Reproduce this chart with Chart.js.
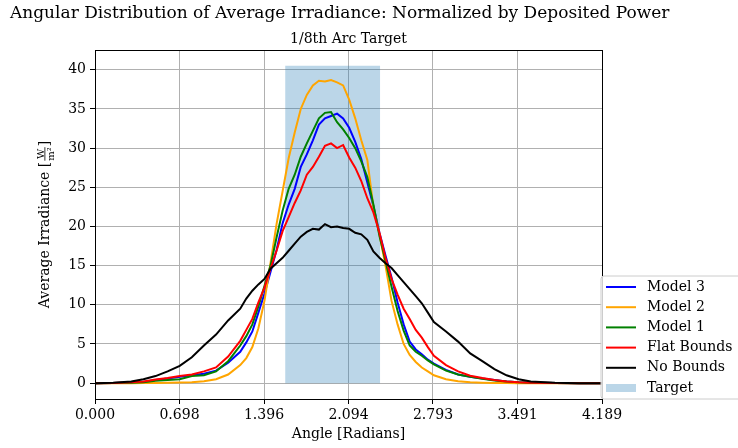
<!DOCTYPE html>
<html>
<head>
<meta charset="utf-8">
<script src="https://cdn.jsdelivr.net/npm/chart.js@4/dist/chart.umd.min.js"></script>
<style>
  html, body { margin: 0; padding: 0; background: #ffffff; }
  #wrap { width: 738px; height: 448px; }
</style>
</head>
<body>
<div id="wrap"><canvas id="c" width="738" height="448"></canvas></div>
<script>
// ---- Data ----
const angles = [0, 0.15, 0.3, 0.4, 0.5, 0.6, 0.7, 0.8, 0.9, 1.0, 1.1, 1.2, 1.25, 1.3, 1.35, 1.4, 1.45, 1.5, 1.55, 1.6, 1.65, 1.7, 1.75, 1.8, 1.85, 1.9, 1.95, 2.0, 2.05, 2.1, 2.15, 2.2, 2.25, 2.3, 2.35, 2.4, 2.45, 2.5, 2.55, 2.6, 2.65, 2.7, 2.75, 2.8, 2.9, 3.0, 3.1, 3.2, 3.3, 3.4, 3.5, 3.6, 3.8, 4.0, 4.189];

const model3 = [0, 0.02, 0.08, 0.15, 0.4, 0.6, 0.8, 1.0, 1.2, 1.6, 2.6, 4.0, 5.2, 6.6, 9.0, 11.4, 14.2, 17.0, 20.4, 22.8, 24.8, 27.6, 29.2, 31.0, 33.0, 33.8, 34.1, 34.4, 33.8, 32.6, 30.8, 28.6, 25.6, 22.6, 19.2, 16.3, 13.5, 10.3, 7.5, 5.3, 4.3, 3.7, 3.0, 2.5, 1.7, 1.1, 0.8, 0.6, 0.4, 0.2, 0.1, 0.05, 0.01, 0, 0];

const model2 = [0, 0, 0, 0.01, 0.02, 0.04, 0.07, 0.12, 0.25, 0.5, 1.1, 2.3, 3.2, 4.6, 7.0, 10.5, 15.3, 20.3, 24.5, 28.7, 32.0, 35.0, 36.8, 38.0, 38.6, 38.5, 38.7, 38.4, 38.0, 36.2, 33.8, 31.0, 28.5, 22.5, 19.0, 15.0, 10.5, 7.5, 5.0, 3.6, 2.7, 2.0, 1.5, 1.0, 0.5, 0.25, 0.12, 0.06, 0.03, 0.01, 0, 0, 0, 0, 0];

const model1 = [0, 0.01, 0.05, 0.1, 0.3, 0.4, 0.5, 0.9, 1.0, 1.5, 2.8, 4.8, 6.0, 7.5, 9.8, 12.4, 15.0, 18.6, 22.0, 24.8, 26.6, 28.9, 30.6, 32.2, 33.8, 34.5, 34.6, 33.3, 32.4, 31.3, 30.0, 28.3, 26.3, 22.8, 18.8, 15.6, 12.3, 9.2, 6.7, 4.8, 4.0, 3.5, 2.9, 2.4, 1.6, 1.1, 0.8, 0.55, 0.35, 0.2, 0.1, 0.05, 0.01, 0, 0];

const flatBounds = [0, 0.02, 0.1, 0.2, 0.45, 0.65, 0.9, 1.1, 1.5, 2.0, 3.4, 5.4, 6.8, 8.2, 10.3, 12.2, 14.6, 16.9, 19.4, 21.2, 23.0, 24.6, 26.6, 27.6, 28.9, 30.3, 30.6, 30.0, 30.4, 28.8, 27.5, 25.8, 23.6, 21.8, 19.2, 16.0, 13.3, 11.3, 9.5, 8.2, 6.8, 5.8, 4.6, 3.5, 2.3, 1.5, 0.95, 0.65, 0.4, 0.2, 0.1, 0.05, 0.01, 0, 0];

const noBounds = [0, 0.05, 0.2, 0.5, 0.9, 1.5, 2.2, 3.3, 4.8, 6.2, 8.0, 9.5, 10.8, 11.8, 12.6, 13.3, 14.6, 15.3, 16.0, 16.9, 17.8, 18.7, 19.3, 19.7, 19.6, 20.3, 19.9, 20.0, 19.8, 19.7, 19.2, 19.0, 18.3, 16.8, 16.0, 15.3, 14.7, 13.8, 12.9, 12.0, 11.1, 10.2, 9.0, 7.8, 6.6, 5.3, 3.8, 2.8, 1.8, 1.0, 0.5, 0.2, 0.05, 0, 0];

const targetRange = [1.5708, 2.3562];   // radians
const targetHeight = 40.5;

const xTickValues = [0, 0.6981, 1.3963, 2.0944, 2.7925, 3.4907, 4.1888];
const xTickLabels = ['0.000', '0.698', '1.396', '2.094', '2.793', '3.491', '4.189'];
const yTickValues = [0, 5, 10, 15, 20, 25, 30, 35, 40];
const yTickLabels = ['0', '5', '10', '15', '20', '25', '30', '35', '40'];

const seriesNames = ['Model 3', 'Model 2', 'Model 1', 'Flat Bounds', 'No Bounds'];
const seriesColors = ['blue', 'orange', 'green', 'red', 'black'];
const targetColor = 'rgba(31,119,180,0.3)';

const titleText = 'Angular Distribution of Average Irradiance: Normalized by Deposited Power';
const subtitleText = '1/8th Arc Target';
const xLabel = 'Angle [Radians]';
const yLabelMain = 'Average Irradiance [';

// ---- Build chart ----
const FONT = '"DejaVu Serif", serif';
const allSeries = [model3, model2, model1, flatBounds, noBounds];

const datasets = allSeries.map((vals, i) => ({
  label: seriesNames[i],
  data: angles.map((a, j) => ({ x: a, y: vals[j] })),
  borderColor: seriesColors[i],
  backgroundColor: seriesColors[i],
  borderWidth: 2,
  pointRadius: 0,
  tension: 0,
  fill: false,
  order: 5 - i
}));
datasets.push({
  label: 'Target',
  data: [
    { x: targetRange[0], y: 0 },
    { x: targetRange[0], y: targetHeight },
    { x: targetRange[1], y: targetHeight },
    { x: targetRange[1], y: 0 }
  ],
  borderWidth: 0,
  borderColor: 'rgba(0,0,0,0)',
  backgroundColor: targetColor,
  pointRadius: 0,
  fill: 'origin',
  order: 10
});

const decorPlugin = {
  id: 'decor',
  afterDatasetsDraw(chart) {
    const { ctx, chartArea: a } = chart;
    ctx.save();
    ctx.strokeStyle = '#000';
    ctx.lineWidth = 1;
    ctx.strokeRect(Math.round(a.left) + 0.5, Math.round(a.top) + 0.5,
                   Math.round(a.right - a.left), Math.round(a.bottom - a.top));
    ctx.restore();
  },
  afterDraw(chart) {
    const { ctx, chartArea: a } = chart;
    ctx.save();
    ctx.fillStyle = '#000';
    // main title
    ctx.font = '17px ' + FONT;
    ctx.textAlign = 'left';
    ctx.textBaseline = 'alphabetic';
    ctx.fillText(titleText, 10, 18);
    // subtitle
    ctx.font = '14px ' + FONT;
    ctx.textAlign = 'center';
    ctx.fillText(subtitleText, (a.left + a.right) / 2, 43);
    // x label
    ctx.font = '14px ' + FONT;
    ctx.textAlign = 'center';
    ctx.fillText(xLabel, (a.left + a.right) / 2, 438);
    // y label with fraction
    ctx.translate(45, (a.top + a.bottom) / 2);
    ctx.rotate(-Math.PI / 2);
    ctx.font = '14px ' + FONT;
    const w1 = ctx.measureText(yLabelMain).width;
    ctx.font = '10px ' + FONT;
    const wf = Math.max(ctx.measureText('W').width, ctx.measureText('m²').width) + 2;
    ctx.font = '14px ' + FONT;
    const w3 = ctx.measureText(']').width;
    const total = w1 + wf + w3;
    let x0 = -total / 2;
    ctx.textAlign = 'left';
    ctx.textBaseline = 'middle';
    ctx.fillText(yLabelMain, x0, 0);
    ctx.font = '10px ' + FONT;
    ctx.textAlign = 'center';
    ctx.textBaseline = 'alphabetic';
    ctx.fillText('W', x0 + w1 + wf / 2, -1);
    ctx.textBaseline = 'top';
    ctx.fillText('m²', x0 + w1 + wf / 2, 1);
    ctx.fillRect(x0 + w1 + 1, -0.5, wf - 2, 0.8);
    ctx.font = '14px ' + FONT;
    ctx.textAlign = 'left';
    ctx.textBaseline = 'middle';
    ctx.fillText(']', x0 + w1 + wf, 0);
    ctx.restore();

    // legend
    ctx.save();
    const lx = 601, ly = 276, lw = 150, lh = 123, r = 3;
    ctx.beginPath();
    ctx.moveTo(lx + r, ly);
    ctx.lineTo(lx + lw - r, ly);
    ctx.arcTo(lx + lw, ly, lx + lw, ly + r, r);
    ctx.lineTo(lx + lw, ly + lh - r);
    ctx.arcTo(lx + lw, ly + lh, lx + lw - r, ly + lh, r);
    ctx.lineTo(lx + r, ly + lh);
    ctx.arcTo(lx, ly + lh, lx, ly + lh - r, r);
    ctx.lineTo(lx, ly + r);
    ctx.arcTo(lx, ly, lx + r, ly, r);
    ctx.closePath();
    ctx.fillStyle = 'rgba(255,255,255,0.8)';
    ctx.fill();
    ctx.strokeStyle = '#cccccc';
    ctx.lineWidth = 1;
    ctx.stroke();
    ctx.font = '14px ' + FONT;
    ctx.textAlign = 'left';
    ctx.textBaseline = 'middle';
    const rowY0 = 287, rowDY = 20.2;
    seriesNames.forEach((name, i) => {
      const y = rowY0 + i * rowDY;
      ctx.strokeStyle = seriesColors[i];
      ctx.lineWidth = 2;
      ctx.beginPath();
      ctx.moveTo(606, y);
      ctx.lineTo(636, y);
      ctx.stroke();
      ctx.fillStyle = '#000';
      ctx.fillText(name, 647, y);
    });
    const ty = rowY0 + 5 * rowDY;
    ctx.fillStyle = targetColor;
    ctx.fillRect(606, ty - 4, 30, 8);
    ctx.fillStyle = '#000';
    ctx.fillText('Target', 647, ty);
    ctx.restore();
  }
};

new Chart(document.getElementById('c'), {
  type: 'line',
  data: { datasets },
  options: {
    responsive: false,
    animation: false,
    events: [],
    layout: { padding: { left: 0, top: 50, right: 136, bottom: 0 } },
    plugins: { legend: { display: false }, tooltip: { enabled: false }, title: { display: false } },
    scales: {
      x: {
        type: 'linear',
        min: 0,
        max: 4.18879,
        afterFit: (s) => { s.height = 49; },
        afterBuildTicks: (s) => { s.ticks = xTickValues.map(v => ({ value: v })); },
        ticks: {
          autoSkip: false,
          maxRotation: 0,
          padding: 3,
          color: '#000',
          font: { family: FONT, size: 14 },
          callback: (v, i) => xTickLabels[i]
        },
        grid: { color: '#b0b0b0', lineWidth: 1, tickColor: '#000', tickLength: 5, tickWidth: 1 },
        border: { display: true, color: '#000', width: 1 }
      },
      y: {
        type: 'linear',
        min: -2.025,
        max: 42.525,
        afterFit: (s) => { s.width = 95; },
        afterBuildTicks: (s) => { s.ticks = yTickValues.map(v => ({ value: v })); },
        ticks: {
          autoSkip: false,
          padding: 4,
          color: '#000',
          font: { family: FONT, size: 14 },
          callback: (v, i) => yTickLabels[i]
        },
        grid: { color: '#b0b0b0', lineWidth: 1, tickColor: '#000', tickLength: 5, tickWidth: 1 },
        border: { display: true, color: '#000', width: 1 }
      }
    }
  },
  plugins: [decorPlugin]
});
</script>
</body>
</html>
